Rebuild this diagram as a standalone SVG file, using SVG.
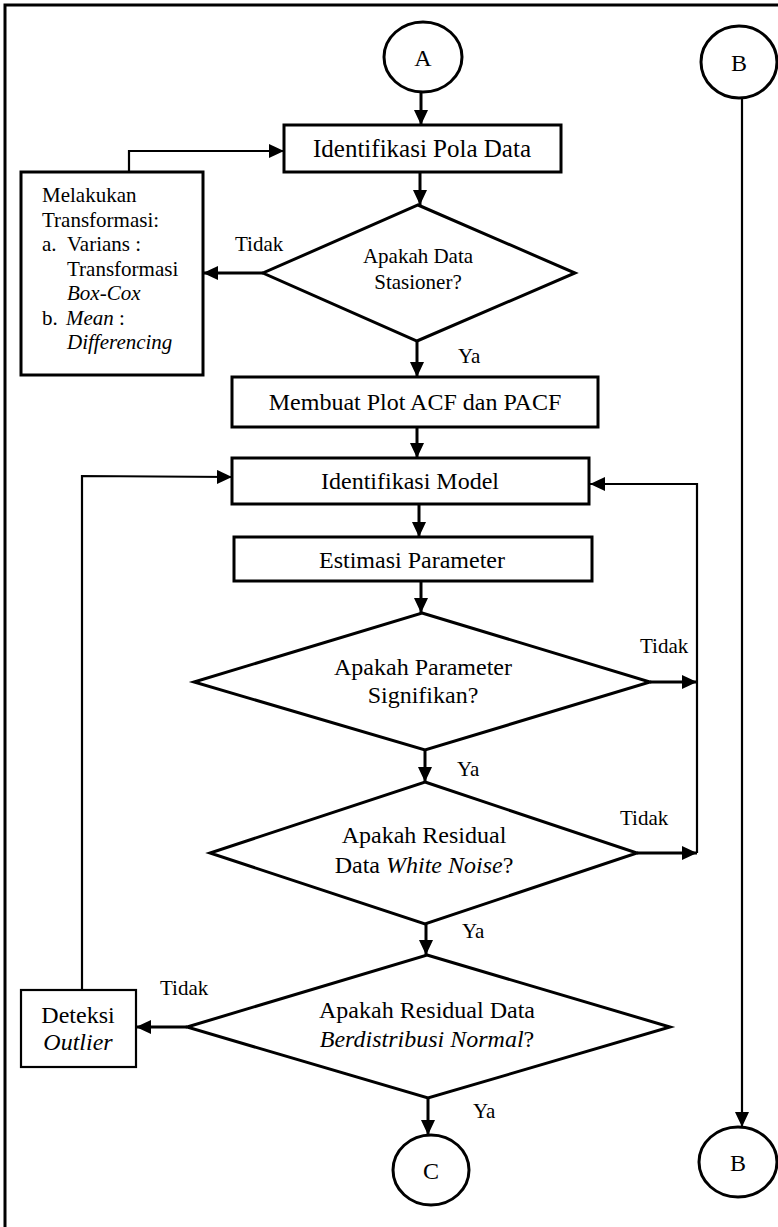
<svg xmlns="http://www.w3.org/2000/svg" width="778" height="1227" viewBox="0 0 778 1227">
<style>
text{font-family:"Liberation Serif","Times New Roman",serif;fill:#000}
.t24{font-size:24px}
.t21{font-size:21px}
.lbl{font-size:21px}
.c{text-anchor:middle}
.i{font-style:italic}
.shape{fill:#fff;stroke:#000;stroke-width:3}
.thin{fill:#fff;stroke:#000;stroke-width:2.2}
.ln{fill:none;stroke:#000;stroke-width:3}
.ln2{fill:none;stroke:#000;stroke-width:2.2}
</style>
<defs>
<marker id="arr" markerUnits="userSpaceOnUse" markerWidth="15" markerHeight="14" refX="15" refY="7" orient="auto">
<path d="M0,0 L15,7 L0,14 z" fill="#000"/>
</marker>
</defs>
<rect x="0" y="0" width="778" height="1227" fill="#fff"/>
<rect id="frame" x="5" y="5" width="820" height="1300" fill="none" stroke="#000" stroke-width="3"/>

<g id="connectors">
<line class="ln" x1="421" y1="92" x2="421" y2="125" marker-end="url(#arr)"/>
<line class="ln" x1="420" y1="172" x2="420" y2="205" marker-end="url(#arr)"/>
<polyline class="ln2" points="129,172 129,151 284,151" marker-end="url(#arr)"/>
<line class="ln" x1="263" y1="273" x2="203" y2="273" marker-end="url(#arr)"/>
<line class="ln" x1="417" y1="341" x2="417" y2="377" marker-end="url(#arr)"/>
<line class="ln" x1="417" y1="427" x2="417" y2="458" marker-end="url(#arr)"/>
<polyline class="ln2" points="82,990 82,476 232,477" marker-end="url(#arr)"/>
<line class="ln" x1="419" y1="504" x2="419" y2="537" marker-end="url(#arr)"/>
<line class="ln" x1="421" y1="581" x2="421" y2="613" marker-end="url(#arr)"/>
<line class="ln" x1="650" y1="682" x2="697" y2="682" marker-end="url(#arr)"/>
<polyline class="ln2" points="697,853 697,484 590,484" marker-end="url(#arr)"/>
<line class="ln" x1="425" y1="750" x2="425" y2="782" marker-end="url(#arr)"/>
<line class="ln" x1="637" y1="853" x2="697" y2="853" marker-end="url(#arr)"/>
<line class="ln" x1="426" y1="924" x2="426" y2="955" marker-end="url(#arr)"/>
<line class="ln" x1="187" y1="1027" x2="136" y2="1027" marker-end="url(#arr)"/>
<line class="ln" x1="428" y1="1098" x2="428" y2="1135" marker-end="url(#arr)"/>
<line class="ln2" x1="742" y1="98" x2="742" y2="1127" marker-end="url(#arr)"/>
<text class="lbl" x="235" y="251">Tidak</text>
<text class="lbl" x="458" y="363" font-size="20">Ya</text>
<text class="lbl" x="640" y="653">Tidak</text>
<text class="lbl" x="457" y="776" font-size="20">Ya</text>
<text class="lbl" x="620" y="825">Tidak</text>
<text class="lbl" x="462" y="938" font-size="20">Ya</text>
<text class="lbl" x="160" y="995">Tidak</text>
<text class="lbl" x="473" y="1118" font-size="20">Ya</text>
</g>

<g id="nodeA">
<ellipse class="shape" cx="423" cy="57" rx="39" ry="35"/>
<text class="t24 c" x="423" y="66">A</text>
</g>
<g id="nodeB1">
<ellipse class="shape" cx="739" cy="62" rx="38" ry="36"/>
<text class="t24 c" x="739" y="71">B</text>
</g>
<g id="idPola">
<rect class="shape" x="284" y="125" width="277" height="47"/>
<text class="c" x="422" y="157" font-size="25">Identifikasi Pola Data</text>
</g>
<g id="transformasi">
<rect class="shape" x="21" y="172" width="182" height="203"/>
<text class="t21" x="42" y="202">Melakukan</text>
<text class="t21" x="42" y="226.5">Transformasi:</text>
<text class="t21" x="42" y="251">a.</text>
<text class="t21" x="67" y="251">Varians :</text>
<text class="t21" x="67" y="275.5">Transformasi</text>
<text class="t21 i" x="67" y="300">Box-Cox</text>
<text class="t21" x="42" y="324.5">b.</text>
<text class="t21" x="66" y="324.5"><tspan class="i">Mean</tspan> :</text>
<text class="t21 i" x="67" y="349">Differencing</text>
</g>
<g id="stasioner">
<polygon class="shape" points="418,205 575,273 417,341 263,273"/>
<text class="t21 c" x="418" y="263">Apakah Data</text>
<text class="t21 c" x="418" y="289">Stasioner?</text>
</g>
<g id="plotAcf">
<rect class="shape" x="232" y="377" width="366" height="50"/>
<text class="t24 c" x="415" y="410">Membuat Plot ACF dan PACF</text>
</g>
<g id="idModel">
<rect class="shape" x="232" y="458" width="357" height="46"/>
<text class="t24 c" x="410" y="489">Identifikasi Model</text>
</g>
<g id="estimasi">
<rect class="shape" x="234" y="537" width="358" height="44"/>
<text class="t24 c" x="412" y="568">Estimasi Parameter</text>
</g>
<g id="signifikan">
<polygon class="shape" points="422,613 650,682 425,750 194,682"/>
<text class="t24 c" x="423" y="675">Apakah Parameter</text>
<text class="t24 c" x="423" y="703">Signifikan?</text>
</g>
<g id="whiteNoise">
<polygon class="shape" points="425,782 637,853 425,924 210,853"/>
<text class="t24 c" x="424" y="843">Apakah Residual</text>
<text class="t24 c" x="424" y="873">Data <tspan class="i">White Noise</tspan>?</text>
</g>
<g id="normal">
<polygon class="shape" points="427,955 670,1027 428,1098 187,1027"/>
<text class="t24 c" x="427" y="1018">Apakah Residual Data</text>
<text class="t24 c" x="427" y="1047"><tspan class="i">Berdistribusi Normal</tspan>?</text>
</g>
<g id="outlier">
<rect class="thin" x="21" y="990" width="115" height="77"/>
<text class="t24 c" x="78" y="1023">Deteksi</text>
<text class="t24 c i" x="78" y="1050">Outlier</text>
</g>
<g id="nodeC">
<ellipse class="shape" cx="431" cy="1170" rx="38" ry="35"/>
<text class="t24 c" x="431" y="1179">C</text>
</g>
<g id="nodeB2">
<ellipse class="shape" cx="738" cy="1162" rx="39" ry="35"/>
<text class="t24 c" x="738" y="1171">B</text>
</g>
</svg>
